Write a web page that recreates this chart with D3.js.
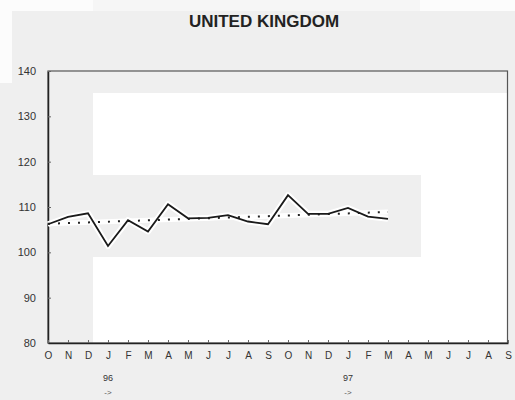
<!DOCTYPE html>
<html>
<head>
<meta charset="utf-8">
<script src="https://cdn.jsdelivr.net/npm/d3@7"></script>
<style>
    body { margin: 0; background: #efefef; }
    svg { display: block; font-family: "Liberation Sans", Arial, sans-serif; }
</style>
</head>
<body>
<svg id="drawing_region"></svg>
<script>
// months Oct 95 .. Sep 97
const months = ['O','N','D','J','F','M','A','M','J','J','A','S','O','N','D','J','F','M','A','M','J','J','A','S'];
const values = [106.2, 107.8, 108.6, 101.4, 107.1, 104.6, 110.6, 107.5, 107.6, 108.2, 106.8, 106.2,
                112.6, 108.5, 108.5, 109.8, 107.9, 107.4];
// dotted trend: start and end (month index, value)
const trendIdx = [0, 17];
const trendVal = [106.3, 108.9];
const yTicks = [80, 90, 100, 110, 120, 130, 140];
const yearLabels = [{ i: 3, label: '96' }, { i: 15, label: '97' }];

const config = {
    parent: '#drawing_region',
    width: 515,
    height: 400,
    margin: { top: 71, right: 7, bottom: 57, left: 48 },
};

class LineChart {
    constructor(config) {
        this.config = config;
        this.init();
    }

    init() {
        let self = this;
        let m = self.config.margin;
        self.inner_width = self.config.width - m.left - m.right;
        self.inner_height = self.config.height - m.top - m.bottom;

        self.svg = d3.select(self.config.parent)
            .attr('width', self.config.width)
            .attr('height', self.config.height);

        self.xscale = d3.scaleLinear()
            .domain([0, months.length - 1])
            .range([0, self.inner_width]);

        self.yscale = d3.scaleLinear()
            .domain([80, 140])
            .range([self.inner_height, 0]);

        self.line = d3.line()
            .x((d, i) => self.xscale(i))
            .y(d => self.yscale(d));
    }

    render() {
        let self = this;
        let m = self.config.margin;

        // scan patches in the background
        const bg = self.svg.append('g');
        bg.append('rect').attr('x', 0).attr('y', 0).attr('width', 515).attr('height', 11).attr('fill', '#f6f6f6');
        bg.append('rect').attr('x', 0).attr('y', 0).attr('width', 93).attr('height', 11).attr('fill', '#fcfcfc');
        bg.append('rect').attr('x', 420).attr('y', 0).attr('width', 95).attr('height', 11).attr('fill', '#fcfcfc');
        bg.append('rect').attr('x', 0).attr('y', 0).attr('width', 12).attr('height', 83).attr('fill', '#fcfcfc');
        bg.append('rect').attr('x', 93).attr('y', 93).attr('width', 415).attr('height', 250).attr('fill', '#ffffff');
        bg.append('rect').attr('x', 93).attr('y', 175).attr('width', 328).attr('height', 82).attr('fill', '#efefef');

        // title
        self.svg.append('text')
            .attr('x', 264)
            .attr('y', 27)
            .attr('text-anchor', 'middle')
            .attr('font-size', '17px')
            .attr('font-weight', 'bold')
            .attr('fill', '#222')
            .text('UNITED KINGDOM');

        self.chart = self.svg.append('g')
            .attr('transform', `translate(${m.left}, ${m.top})`);

        // frame
        self.chart.append('rect')
            .attr('width', self.inner_width - 0.5)
            .attr('height', self.inner_height)
            .attr('fill', 'none')
            .attr('stroke', '#555')
            .attr('stroke-width', 1.2);

        // y axis
        const yaxis = d3.axisLeft(self.yscale)
            .tickValues(yTicks)
            .tickSize(-3)
            .tickPadding(12)
            .tickSizeOuter(0);
        const yg = self.chart.append('g').call(yaxis);
        yg.select('.domain').attr('stroke', '#222').attr('stroke-width', 1.5);
        yg.selectAll('.tick line').attr('stroke', '#666');
        yg.selectAll('.tick text').attr('font-size', '11px').attr('fill', '#333');

        // x axis
        const xaxis = d3.axisBottom(self.xscale)
            .tickValues(d3.range(months.length))
            .tickFormat(i => months[i])
            .tickSize(-3)
            .tickPadding(9)
            .tickSizeOuter(0);
        const xg = self.chart.append('g')
            .attr('transform', `translate(0, ${self.inner_height})`)
            .call(xaxis);
        xg.select('.domain').attr('stroke', '#222').attr('stroke-width', 1.5);
        xg.selectAll('.tick line').attr('stroke', '#666');
        xg.selectAll('.tick text').attr('font-size', '10px').attr('fill', '#333');

        // year markers
        const yl = self.chart.selectAll('.year')
            .data(yearLabels)
            .enter()
            .append('g')
            .attr('transform', d => `translate(${self.xscale(d.i)}, ${self.inner_height})`);
        yl.append('text')
            .attr('y', 38)
            .attr('text-anchor', 'middle')
            .attr('font-size', '9px')
            .attr('fill', '#333')
            .text(d => d.label);
        yl.append('text')
            .attr('y', 52)
            .attr('text-anchor', 'middle')
            .attr('font-size', '8px')
            .attr('fill', '#555')
            .text('->');

        // trend (dotted)
        const trend = d3.line()
            .x(d => self.xscale(d[0]))
            .y(d => self.yscale(d[1]));
        const tdata = trendIdx.map((t, i) => [t, trendVal[i]]);
        self.chart.append('path')
            .attr('d', trend(tdata))
            .attr('stroke', '#fff')
            .attr('stroke-width', 5)
            .attr('fill', 'none');

        // index line
        self.chart.append('path')
            .attr('d', self.line(values))
            .attr('stroke', '#fff')
            .attr('stroke-width', 6)
            .attr('stroke-linejoin', 'round')
            .attr('fill', 'none');

        self.chart.append('path')
            .attr('d', trend(tdata))
            .attr('stroke', '#222')
            .attr('stroke-width', 2)
            .attr('stroke-dasharray', '2,8')
            .attr('fill', 'none');

        self.chart.append('path')
            .attr('d', self.line(values))
            .attr('stroke', '#1a1a1a')
            .attr('stroke-width', 1.8)
            .attr('fill', 'none');
    }
}

let chart = new LineChart(config);
chart.render();
</script>
</body>
</html>
